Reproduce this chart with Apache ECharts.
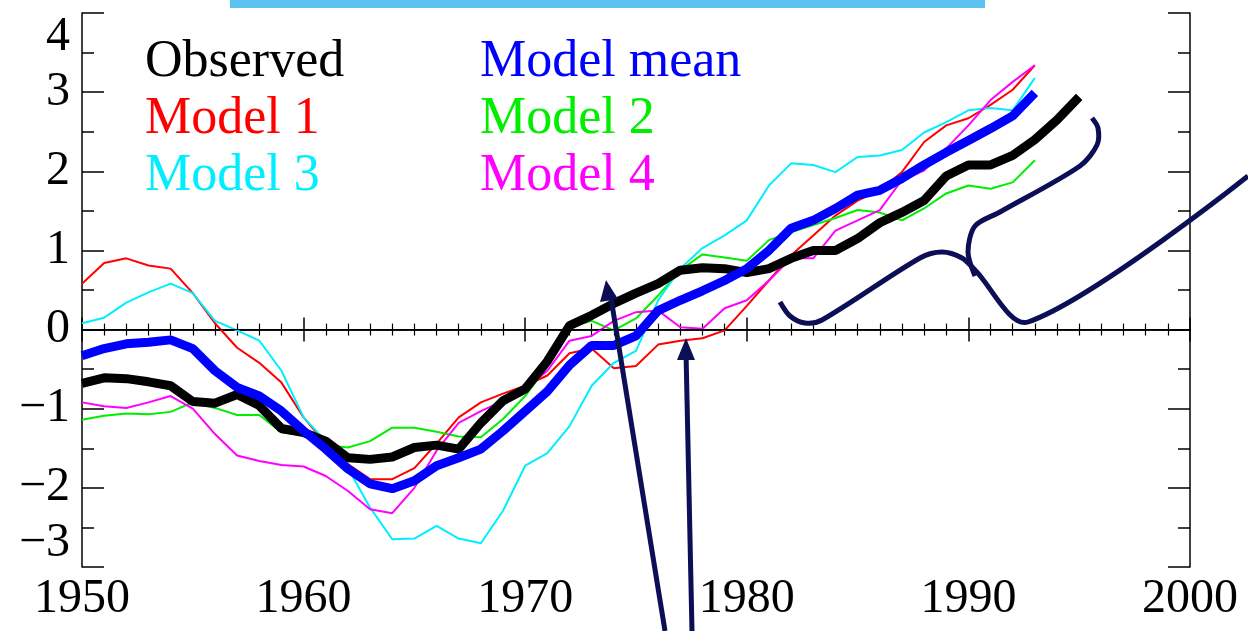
<!DOCTYPE html>
<html>
<head>
<meta charset="utf-8">
<script src="https://cdn.jsdelivr.net/npm/echarts@6/dist/echarts.min.js"></script>
<style>html,body{margin:0;padding:0;background:#fff}#chart{width:1248px;height:631px}</style>
</head>
<body>
<div id="chart"></div>
<script>
// Años y series (anomalías)
const years = [];
for (let y = 1950; y <= 1995; y++) years.push(y);

const observed = [-0.68,-0.61,-0.62,-0.66,-0.71,-0.91,-0.93,-0.82,-0.96,-1.25,-1.30,-1.41,-1.62,-1.64,-1.61,-1.49,-1.46,-1.51,-1.18,-0.90,
  -0.75,-0.40,0.05,0.18,0.33,0.46,0.58,0.75,0.78,0.77,0.72,0.77,0.90,1.00,1.00,1.15,1.35,1.48,1.63,1.94,2.08,2.08,2.20,2.40,2.65,2.94];
const modelMean = [-0.33,-0.24,-0.18,-0.16,-0.13,-0.24,-0.52,-0.73,-0.84,-1.03,-1.28,-1.51,-1.76,-1.95,-2.01,-1.91,-1.72,-1.62,-1.51,-1.28,
  -1.03,-0.78,-0.45,-0.20,-0.20,-0.08,0.24,0.37,0.49,0.62,0.77,1.00,1.28,1.38,1.53,1.70,1.76,1.91,2.08,2.24,2.39,2.54,2.70,2.99];
const model1 = [0.58,0.84,0.90,0.81,0.77,0.46,0.08,-0.23,-0.42,-0.67,-1.11,-1.44,-1.70,-1.89,-1.89,-1.75,-1.44,-1.11,-0.92,-0.81,
  -0.71,-0.58,-0.30,-0.24,-0.49,-0.46,-0.19,-0.14,-0.11,-0.01,0.30,0.62,0.94,1.19,1.44,1.63,1.76,1.99,2.37,2.58,2.67,2.84,3.03,3.34];
const model2 = [-1.14,-1.09,-1.06,-1.07,-1.04,-0.92,-0.99,-1.08,-1.08,-1.30,-1.33,-1.46,-1.49,-1.41,-1.24,-1.24,-1.29,-1.35,-1.36,-1.13,
  -0.84,-0.46,0.03,0.11,-0.01,0.14,0.43,0.75,0.95,0.91,0.87,1.13,1.23,1.32,1.41,1.51,1.48,1.38,1.53,1.72,1.82,1.78,1.86,2.14];
const model3 = [0.08,0.15,0.34,0.47,0.58,0.46,0.11,-0.01,-0.14,-0.52,-1.11,-1.41,-1.75,-2.25,-2.65,-2.64,-2.48,-2.64,-2.70,-2.29,
  -1.72,-1.56,-1.22,-0.71,-0.42,-0.27,0.37,0.77,1.03,1.19,1.38,1.82,2.10,2.08,1.99,2.18,2.20,2.27,2.49,2.62,2.77,2.80,2.77,3.18];
const model4 = [-0.92,-0.97,-0.99,-0.92,-0.84,-1.00,-1.32,-1.59,-1.66,-1.71,-1.73,-1.85,-2.04,-2.27,-2.32,-2.00,-1.53,-1.18,-1.03,-0.90,
  -0.75,-0.52,-0.14,-0.08,0.11,0.22,0.24,0.03,0.01,0.27,0.37,0.62,0.90,0.90,1.25,1.38,1.51,1.89,2.01,2.29,2.58,2.90,3.13,3.34];

const yTicks = [-3, -2, -1, 0, 1, 2, 3, 4];
const xTicks = [1950, 1960, 1970, 1980, 1990, 2000];

const toPairs = vals => vals.map((v, i) => [years[i], v]);
const serif = 'Liberation Serif';
const navy = '#0c0f55';

function lineSeries(name, vals, color, width, z) {
  return {
    name, type: 'line', data: toPairs(vals), showSymbol: false, z,
    lineStyle: { color, width }, itemStyle: { color }
  };
}

function label(text, x, y, color) {
  return { type: 'text', x, y, z: 10,
    style: { text, fill: color, fontFamily: serif, fontSize: 52, verticalAlign: 'middle' } };
}

function stroke(points) {
  return { type: 'polyline', z: 20, shape: { points, smooth: 0.3 },
    style: { stroke: navy, lineWidth: 5, fill: null } };
}

const chart = echarts.init(document.getElementById('chart'));
const axisLine = { show: true, lineStyle: { color: '#000', width: 1.5 } };
const xTick = { inside: true, length: 12, lineStyle: { color: '#000', width: 1.5 } };
const xMinor = { show: true, splitNumber: 10, length: 6, lineStyle: { color: '#000', width: 1.2 } };
const yTick = { inside: true, length: 22, lineStyle: { color: '#000', width: 1.5 } };
const yMinor = { show: true, splitNumber: 2, length: 12, lineStyle: { color: '#000', width: 1.5 } };
chart.setOption({
  animation: false,
  grid: { left: 82, right: 58, top: 13, bottom: 64 },
  xAxis: [
    { type: 'value', min: 1950, max: 2000, interval: 10, axisLine, axisTick: xTick, minorTick: xMinor,
      splitLine: { show: false },
      axisLabel: { fontFamily: serif, fontSize: 48, color: '#000', margin: 8,
        formatter: v => xTicks.includes(v) ? String(v) : '' } },
    { type: 'value', position: 'top', min: 1950, max: 2000, interval: 10, axisLine, axisTick: xTick, minorTick: xMinor,
      splitLine: { show: false }, axisLabel: { show: false } }
  ],
  yAxis: [
    { type: 'value', min: -3, max: 4, interval: 1, axisLine, axisTick: yTick, minorTick: yMinor,
      splitLine: { show: false },
      axisLabel: { fontFamily: serif, fontSize: 48, color: '#000', margin: 12,
        verticalAlignMinLabel: 'bottom', verticalAlignMaxLabel: 'top',
        formatter: v => yTicks.includes(v) ? (v < 0 ? '\u2212' + Math.abs(v) : String(v)) : '' } },
    { type: 'value', position: 'right', min: -3, max: 4, interval: 1, axisLine, axisTick: yTick, minorTick: yMinor,
      splitLine: { show: false }, axisLabel: { show: false } }
  ],
  series: [
    lineSeries('Model 1', model1, '#ff0000', 2, 3),
    lineSeries('Model 2', model2, '#00ee00', 2, 3),
    lineSeries('Model 3', model3, '#00eeff', 2, 3),
    lineSeries('Model 4', model4, '#ff00ff', 2, 3),
    lineSeries('Observed', observed, '#000000', 9, 4),
    Object.assign(lineSeries('Model mean', modelMean, '#0000ff', 9, 5), {
      markLine: { silent: true, symbol: 'none', label: { show: false },
        lineStyle: { color: '#000', width: 1.2, type: 'solid' }, data: [{ yAxis: 0 }] }
    })
  ],
  graphic: [
    { type: 'rect', shape: { x: 230, y: 0, width: 755, height: 8 }, style: { fill: '#5bc2f2' }, z: 10 },
    label('Observed', 145, 62, '#000000'),
    label('Model 1', 145, 119, '#ff0000'),
    label('Model 3', 145, 176, '#00eeff'),
    label('Model mean', 480, 62, '#0000ff'),
    label('Model 2', 480, 119, '#00ee00'),
    label('Model 4', 480, 176, '#ff00ff'),
    // anotaciones (flechas y trazos)
    { type: 'line', z: 20, shape: { x1: 665, y1: 631, x2: 610, y2: 292 }, style: { stroke: navy, lineWidth: 5 } },
    { type: 'polygon', z: 20, shape: { points: [[606, 280], [600, 302], [618, 299]] }, style: { fill: navy } },
    { type: 'line', z: 20, shape: { x1: 692, y1: 631, x2: 686, y2: 352 }, style: { stroke: navy, lineWidth: 5 } },
    { type: 'polygon', z: 20, shape: { points: [[686, 338], [677, 360], [695, 360]] }, style: { fill: navy } },
    stroke([[780, 302], [790, 316], [805, 323], [822, 320], [920, 258], [942, 252], [962, 258], [975, 270], [1028, 322], [1248, 176]]),
    stroke([[975, 276], [968, 252], [975, 226], [1000, 212], [1080, 166], [1097, 145], [1098, 128], [1092, 118]])
  ]
});
</script>
</body>
</html>
